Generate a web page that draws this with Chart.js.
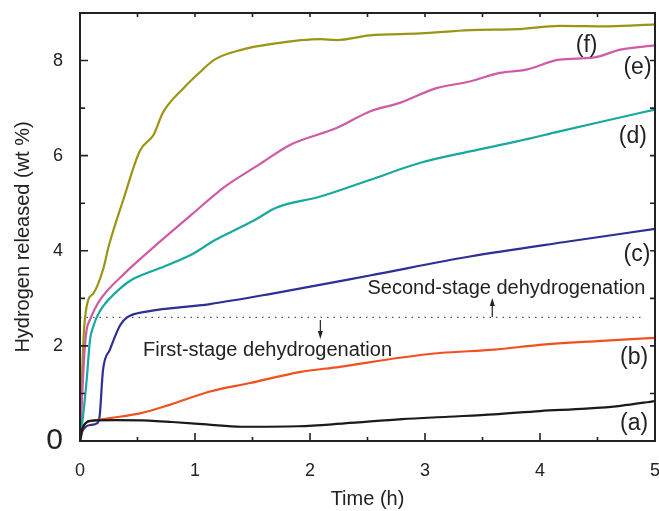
<!DOCTYPE html>
<html>
<head>
<meta charset="utf-8">
<script src="https://cdn.jsdelivr.net/npm/chart.js@4/dist/chart.umd.min.js"></script>
<style>
  html, body { margin: 0; padding: 0; background: #fff; }
  #wrap { width: 659px; height: 511px; }
</style>
</head>
<body>
<div id="wrap"><canvas id="h2Chart" width="659" height="511"></canvas></div>
<script>
// Values (time in h, hydrogen in wt %)
const timeA = [0, 0.02, 0.05, 0.1, 0.3, 0.6, 0.8, 1.1, 1.4, 1.9, 2.3, 2.8, 3.2, 3.6, 4.0, 4.4, 4.7, 5.0];
const hydA  = [0, 0.25, 0.38, 0.43, 0.44, 0.43, 0.40, 0.35, 0.30, 0.31, 0.37, 0.46, 0.51, 0.56, 0.63, 0.68, 0.74, 0.84];

const timeB = [0, 0.02, 0.05, 0.1, 0.26, 0.52, 0.78, 1.13, 1.48, 1.91, 2.26, 2.78, 3.13, 3.6, 4.0, 4.5, 5.0];
const hydB  = [0, 0.25, 0.38, 0.42, 0.48, 0.58, 0.76, 1.04, 1.22, 1.45, 1.56, 1.75, 1.85, 1.92, 2.02, 2.1, 2.17];

const timeC = [0, 0.02, 0.05, 0.1, 0.145, 0.17, 0.2, 0.26, 0.35, 0.41, 0.58, 1.13, 1.65, 2.52, 3.39, 4.26, 5.0];
const hydC  = [0, 0.2, 0.3, 0.34, 0.37, 0.51, 1.49, 1.92, 2.44, 2.6, 2.72, 2.88, 3.09, 3.48, 3.88, 4.2, 4.46];

const timeD = [0, 0.03, 0.058, 0.087, 0.116, 0.145, 0.2, 0.35, 0.45, 0.68, 0.97, 1.17, 1.41, 1.55, 1.7, 2.09, 2.52, 2.96, 3.39, 3.8, 4.17, 4.6, 5.0];
const hydD  = [0, 0.6, 1.28, 2.13, 2.41, 2.6, 2.83, 3.21, 3.39, 3.62, 3.92, 4.22, 4.51, 4.69, 4.9, 5.14, 5.49, 5.85, 6.09, 6.3, 6.51, 6.75, 6.97];

const timeE = [0, 0.02, 0.04, 0.058, 0.087, 0.17, 0.39, 0.68, 0.97, 1.26, 1.55, 1.83, 2.23, 2.52, 2.78, 3.1, 3.39, 3.65, 3.88, 4.17, 4.46, 4.7, 5.0];
const hydE  = [0, 1.0, 1.9, 2.34, 2.55, 2.95, 3.53, 4.16, 4.76, 5.35, 5.8, 6.23, 6.58, 6.93, 7.11, 7.42, 7.56, 7.74, 7.81, 8.02, 8.06, 8.23, 8.32];

const timeF = [0, 0.015, 0.035, 0.072, 0.116, 0.2, 0.25, 0.38, 0.52, 0.64, 0.72, 0.9, 1.04, 1.17, 1.41, 1.67, 2.09, 2.23, 2.52, 2.96, 3.39, 3.8, 4.17, 4.6, 5.0];
const hydF  = [0, 1.2, 2.34, 2.97, 3.1, 3.6, 4.1, 5.1, 6.1, 6.44, 6.9, 7.42, 7.75, 8.02, 8.23, 8.35, 8.45, 8.43, 8.53, 8.57, 8.64, 8.66, 8.73, 8.72, 8.76];

const stageTime = [0, 4.88];
const stageHyd  = [2.6, 2.6];

const xTicks = [0, 1, 2, 3, 4, 5];
const yTicks = [0, 2, 4, 6, 8];

const curveLabels = ["(a)", "(b)", "(c)", "(d)", "(e)", "(f)"];

const pts = (t, v) => t.map((x, i) => ({x: x, y: v[i]}));

function curve(t, v, color) {
    return {
        data: pts(t, v),
        borderColor: color,
        borderWidth: 2.2,
        pointRadius: 0,
        fill: false,
        tension: 0.3,
        cubicInterpolationMode: 'monotone'
    };
}

const ink = '#222';
const font = 'Liberation Sans, Arial, sans-serif';

// frame, inward ticks, labels and arrows
const decor = {
    id: 'decor',
    afterDraw(chart) {
        const c = chart.ctx, xs = chart.scales.x, ys = chart.scales.y;
        const a = chart.chartArea;
        c.save();
        c.strokeStyle = ink;
        c.lineWidth = 2;
        c.strokeRect(a.left, a.top, a.right - a.left, a.bottom - a.top);

        c.lineWidth = 1.6;
        c.beginPath();
        for (let v = 0; v <= 9; v++) {
            const y = ys.getPixelForValue(v);
            const len = v % 2 === 0 ? 8 : 5;
            c.moveTo(a.left, y); c.lineTo(a.left + len, y);
            c.moveTo(a.right, y); c.lineTo(a.right - 5, y);
        }
        for (let t = 0; t <= 5; t += 0.5) {
            const x = xs.getPixelForValue(t);
            const len = Number.isInteger(t) ? 8 : 4;
            c.moveTo(x, a.bottom); c.lineTo(x, a.bottom - len);
            c.moveTo(x, a.top); c.lineTo(x, a.top + 4);
        }
        c.stroke();

        // curve labels
        c.fillStyle = ink;
        c.font = '23px ' + font;
        c.textAlign = 'right';
        c.textBaseline = 'middle';
        const pos = [[4.94, 0.36], [4.94, 1.76], [4.96, 3.92], [4.93, 6.4], [4.97, 7.85], [4.5, 8.32]];
        curveLabels.forEach((s, i) => {
            c.fillText(s, xs.getPixelForValue(pos[i][0]), ys.getPixelForValue(pos[i][1]));
        });

        // stage texts
        c.font = '20px ' + font;
        c.textAlign = 'left';
        c.fillText('Second-stage dehydrogenation', xs.getPixelForValue(2.5), ys.getPixelForValue(3.2));
        c.fillText('First-stage dehydrogenation', xs.getPixelForValue(0.548), ys.getPixelForValue(1.91));

        // arrows
        c.lineWidth = 1.2;
        const ax1 = xs.getPixelForValue(3.585);
        const ax2 = xs.getPixelForValue(2.09);
        c.beginPath();
        c.moveTo(ax1, 317); c.lineTo(ax1, 303);
        c.moveTo(ax2, 320); c.lineTo(ax2, 333);
        c.stroke();
        c.beginPath();
        c.moveTo(ax1, 298); c.lineTo(ax1 - 2.5, 306); c.lineTo(ax1 + 2.5, 306); c.closePath();
        c.moveTo(ax2, 339); c.lineTo(ax2 - 2.5, 331); c.lineTo(ax2 + 2.5, 331); c.closePath();
        c.fill();

        // y title
        c.font = '20px ' + font;
        c.textAlign = 'center';
        c.translate(23, 237);
        c.rotate(-Math.PI / 2);
        c.fillText('Hydrogen released (wt %)', 0, 0);
        c.restore();
    }
};

new Chart(document.getElementById('h2Chart'), {
    type: 'line',
    data: {
        datasets: [
            curve(timeA, hydA, '#1a1a1a'),
            curve(timeB, hydB, '#f2501f'),
            curve(timeC, hydC, '#2b2f96'),
            curve(timeD, hydD, '#17a8a0'),
            curve(timeE, hydE, '#cf5aa5'),
            curve(timeF, hydF, '#9b9515'),
            {
                data: pts(stageTime, stageHyd),
                borderColor: '#555',
                borderWidth: 1.2,
                borderDash: [1.5, 5],
                pointRadius: 0,
                fill: false
            }
        ]
    },
    options: {
        responsive: false,
        animation: false,
        layout: { padding: { top: 13, right: 4, left: 0, bottom: 0 } },
        plugins: { legend: { display: false }, tooltip: { enabled: false } },
        scales: {
            x: {
                type: 'linear', min: 0, max: 5,
                afterFit: s => { s.height = 70; s.paddingLeft = 0; s.paddingRight = 0; },
                afterBuildTicks: s => { s.ticks = xTicks.map(v => ({value: v})); },
                grid: { display: false, drawTicks: false },
                border: { display: false },
                ticks: { color: ink, padding: 19, font: { family: font, size: 18 } },
                title: { display: true, text: 'Time (h)', color: ink, padding: { top: 0, bottom: 0 }, font: { family: font, size: 20 } }
            },
            y: {
                type: 'linear', min: 0, max: 9,
                afterFit: s => { s.width = 80; s.paddingTop = 0; s.paddingBottom = 0; },
                afterBuildTicks: s => { s.ticks = yTicks.map(v => ({value: v})); },
                grid: { display: false, drawTicks: false },
                border: { display: false },
                ticks: {
                    color: ink, padding: 17,
                    font: ctx => ({ family: font, size: ctx.tick && ctx.tick.value === 0 ? 30 : 18 })
                }
            }
        }
    },
    plugins: [decor]
});
</script>
</body>
</html>
